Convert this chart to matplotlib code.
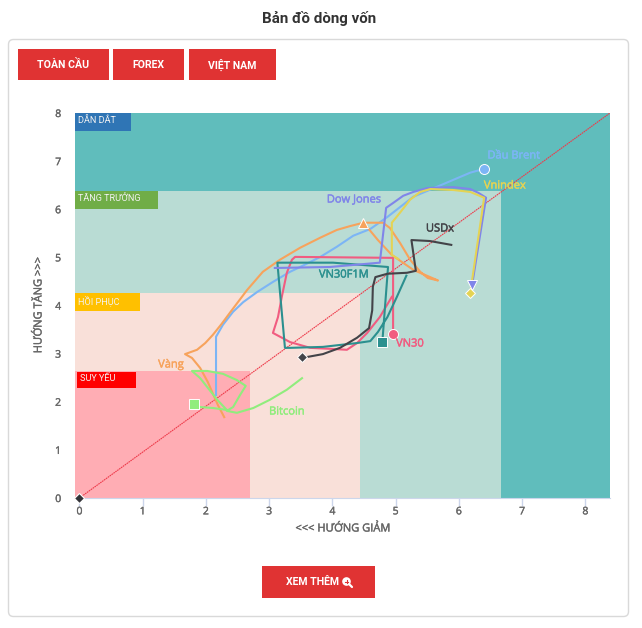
import matplotlib

matplotlib.use("Agg")

import matplotlib.patheffects as pe
import matplotlib.pyplot as plt
from matplotlib.patches import Circle, FancyBboxPatch, Rectangle

WIDTH, HEIGHT = 642, 628

# zones: upper bounds of each quadrant
zone_x = [2.7, 4.44, 6.67, 8.39]
zone_y = [2.64, 4.26, 6.37, 8.0]
zone_colors = ["#ffadb4", "#f9e0d9", "#b9dcd4", "#60bdbc"]

brent_x = [2.16, 2.16, 2.27, 2.43, 2.59, 2.81, 3.06, 3.33, 3.49, 3.81, 4.07, 4.33, 4.60,
           4.87, 5.28, 5.66, 5.91, 6.18, 6.40]
brent_y = [2.14, 3.35, 3.60, 3.87, 4.07, 4.28, 4.49, 4.70, 4.80, 5.01, 5.22, 5.45, 5.59,
           5.84, 6.26, 6.47, 6.61, 6.76, 6.84]

dow_x = [3.09, 3.96, 4.75, 4.85, 4.96, 5.12, 5.28, 5.50, 5.91, 6.18, 6.31, 6.43, 6.21]
dow_y = [4.78, 4.80, 4.89, 6.03, 6.13, 6.28, 6.36, 6.44, 6.46, 6.42, 6.34, 6.24, 4.43]

vni_x = [5.04, 4.94, 4.94, 5.07, 5.23, 5.39, 5.55, 5.91, 6.18, 6.40, 6.18]
vni_y = [4.97, 5.05, 5.72, 5.93, 6.20, 6.36, 6.42, 6.40, 6.36, 6.24, 4.26]

usd_x = [5.88, 5.54, 5.25, 5.32, 5.18, 4.87, 4.68, 4.64, 4.63, 4.58, 4.39, 4.12, 3.85, 3.60, 3.52]
usd_y = [5.26, 5.34, 5.36, 4.72, 4.68, 4.66, 4.59, 4.39, 3.90, 3.53, 3.33, 3.12, 2.99, 2.93, 2.93]

vn30_x = [4.94, 4.75, 4.55, 4.39, 4.23, 3.96, 3.65, 3.33, 3.06, 3.14, 3.20, 3.28, 3.36, 3.41,
          4.96, 4.96]
vn30_y = [4.18, 3.76, 3.43, 3.22, 3.08, 3.10, 3.12, 3.24, 3.43, 3.76, 4.18, 4.68, 4.95, 5.01,
          4.99, 3.41]

f1m_x = [5.17, 5.02, 4.87, 4.72, 4.60, 4.39, 3.85, 3.33, 3.25, 3.13, 4.01, 4.88, 4.79]
f1m_y = [4.62, 4.18, 3.76, 3.45, 3.26, 3.22, 3.14, 3.12, 3.12, 4.89, 4.89, 4.80, 3.24]

gold_x = [2.29, 2.19, 2.03, 1.91, 1.78, 1.67, 1.86, 1.99, 2.11, 2.25, 2.38, 2.65, 2.90, 3.17,
          3.49, 3.81, 4.07, 4.28, 4.49, 4.60, 4.80, 4.91, 5.07, 5.23, 5.39, 5.51, 5.67, 5.28,
          4.94, 4.72, 4.55, 4.49]
gold_y = [1.68, 1.93, 2.41, 2.70, 2.91, 2.99, 3.08, 3.22, 3.39, 3.62, 3.85, 4.32, 4.70, 4.95,
          5.20, 5.41, 5.57, 5.65, 5.72, 5.72, 5.72, 5.61, 5.30, 4.95, 4.70, 4.57, 4.52, 4.74,
          5.05, 5.36, 5.63, 5.72]

btc_x = [3.52, 3.28, 3.01, 2.75, 2.49, 2.33, 2.43, 2.54, 2.63, 2.49, 2.27, 2.02, 1.78, 1.91,
         2.03, 2.18, 2.33, 2.11, 1.91, 1.81]
btc_y = [2.49, 2.25, 2.04, 1.87, 1.77, 1.81, 1.89, 2.14, 2.33, 2.45, 2.58, 2.64, 2.64, 2.49,
         2.29, 2.04, 1.83, 1.87, 1.89, 1.95]

x_ticks = [0, 1, 2, 3, 4, 5, 6, 7, 8]
y_ticks = [0, 1, 2, 3, 4, 5, 6, 7, 8]

# label, xs, ys, colour, end marker, marker size
series = [
    ("Dầu Brent", brent_x, brent_y, "#7cb5f5", "o", 7.2),
    ("Vàng", gold_x, gold_y, "#f7a35c", "^", 7.2),
    ("Bitcoin", btc_x, btc_y, "#90ed7d", "s", 7),
    ("VN30", vn30_x, vn30_y, "#f15c80", "o", 7.2),
    ("VN30F1M", f1m_x, f1m_y, "#2b908f", "s", 7),
    ("USDx", usd_x, usd_y, "#434348", "D", 4.6),
    ("Dow Jones", dow_x, dow_y, "#8085e9", "v", 7),
    ("Vnindex", vni_x, vni_y, "#e4d354", "D", 5.4),
]

# pixel centre of each series label
label_pos = {
    "Dầu Brent": (514, 156),
    "Vàng": (171, 365),
    "Bitcoin": (287, 412),
    "VN30": (410, 344),
    "VN30F1M": (344, 275),
    "USDx": (440, 229),
    "Dow Jones": (354, 200),
    "Vnindex": (505, 186),
}

plt.rcParams["font.family"] = ["Open Sans", "DejaVu Sans"]

figure = plt.figure(figsize=(WIDTH / 100, HEIGHT / 100), dpi=100)

page = figure.add_axes([0, 0, 1, 1], zorder=0)
page.set_xlim(0, WIDTH)
page.set_ylim(HEIGHT, 0)
page.axis("off")

page.text(319, 19, "Bản đồ dòng vốn", family="Roboto", fontsize=10.9, fontweight="bold",
          color="#333333", ha="center", va="center")
page.add_patch(FancyBboxPatch((8.5, 39.5), 620, 577, boxstyle="round,pad=0,rounding_size=5",
                              facecolor="white", edgecolor="#d9d9d9", linewidth=1))

buttons = [(18, 49, 91, 31, "TOÀN CẦU"), (113, 49, 71, 31, "FOREX"), (189, 49, 87, 31, "VIỆT NAM")]
for bx, by, bw, bh, text in buttons:
    page.add_patch(Rectangle((bx, by), bw, bh, facecolor="#e03333", edgecolor="none"))
    page.text(bx + bw / 2 - 0.5, by + bh / 2, text, family="Roboto", fontsize=7.6, fontweight="bold",
              color="white", ha="center", va="center")

page.add_patch(Rectangle((262, 566), 113, 32, facecolor="#e03333", edgecolor="none"))
page.text(312, 582, "XEM THÊM", family="Roboto", fontsize=7.6, fontweight="bold",
          color="white", ha="center", va="center")
page.add_patch(Circle((346.5, 581.5), 3.6, facecolor="white", edgecolor="white", linewidth=1))
page.plot([349, 352], [584, 587], color="white", linewidth=1.6, solid_capstyle="round")
page.plot([344.8, 348.2], [581.5, 581.5], color="#e03333", linewidth=0.8)
page.plot([346.5, 346.5], [579.8, 583.2], color="#e03333", linewidth=0.8)

axis = figure.add_axes([75 / WIDTH, 1 - 498 / HEIGHT, 535 / WIDTH, 385 / HEIGHT], zorder=1)
axis.set_xlim(-0.07, 8.39)
axis.set_ylim(0, 8)

# draw zones from largest to smallest
for zx, zy, zc in reversed(list(zip(zone_x, zone_y, zone_colors))):
    axis.add_patch(Rectangle((-0.07, 0), zx + 0.07, zy, facecolor=zc, edgecolor="none", zorder=1))

axis.plot([0, 8.39], [0, 8], color="#ee3a4a", linewidth=0.8, linestyle=(0, (1.5, 0.6)), zorder=2)
axis.plot([0], [0], marker="D", markersize=4.6, color="#333338", markeredgecolor="white",
          markeredgewidth=0.8, zorder=6, clip_on=False)

for name, xs, ys, color, marker, size in series:
    axis.plot(xs, ys, color=color, linewidth=1.5, solid_joinstyle="round", zorder=3)
    axis.plot(xs[-1], ys[-1], marker=marker, markersize=size, color=color,
              markeredgecolor="white", markeredgewidth=0.7, zorder=5)
    lx, ly = label_pos[name]
    axis.text(lx, ly, name, transform=page.transData, color=color, fontsize=8,
              ha="center", va="center", zorder=7, clip_on=False,
              path_effects=[pe.withStroke(linewidth=0.3, foreground=color)])

zone_tags = [
    (75, 113, 56, 18, "DẪN DẮT", "#2f75b5"),
    (75, 191, 83, 18, "TĂNG TRƯỞNG", "#70ad47"),
    (75, 293, 65, 18, "HỒI PHỤC", "#ffc000"),
    (77, 372, 59, 16, "SUY YẾU", "#ff0000"),
]
for tx, ty, tw, th, text, color in zone_tags:
    axis.add_patch(Rectangle((tx, ty), tw, th, transform=page.transData, facecolor=color,
                             edgecolor="none", zorder=4))
    axis.text(tx + 3, ty + th / 2 - 1.5, text, transform=page.transData, color="#f2f2f2",
              family="Roboto", fontsize=6.6, ha="left", va="center", zorder=7)

axis.set_xticks(x_ticks)
axis.set_yticks(y_ticks)
axis.tick_params(axis="x", length=6, width=1, color="#ccd6eb", labelsize=7.5,
                 labelcolor="#666666", pad=0)
axis.tick_params(axis="y", length=0, labelsize=7.5, labelcolor="#666666", pad=10)
for label in axis.get_xticklabels() + axis.get_yticklabels():
    label.set_path_effects([pe.withStroke(linewidth=0.25, foreground="#666666")])
axis.spines[["top", "right", "left"]].set_visible(False)
axis.spines["bottom"].set_color("#ccd6eb")

for text_item in (
    page.text(343, 529, "<<< HƯỚNG GIẢM", color="#666666", fontsize=8, ha="center", va="center"),
    page.text(39, 305, "HƯỚNG TĂNG >>>", color="#666666", fontsize=8, ha="center", va="center",
              rotation=90),
):
    text_item.set_path_effects([pe.withStroke(linewidth=0.25, foreground="#666666")])

figure.savefig("out.png", dpi=100)
plt.close(figure)
